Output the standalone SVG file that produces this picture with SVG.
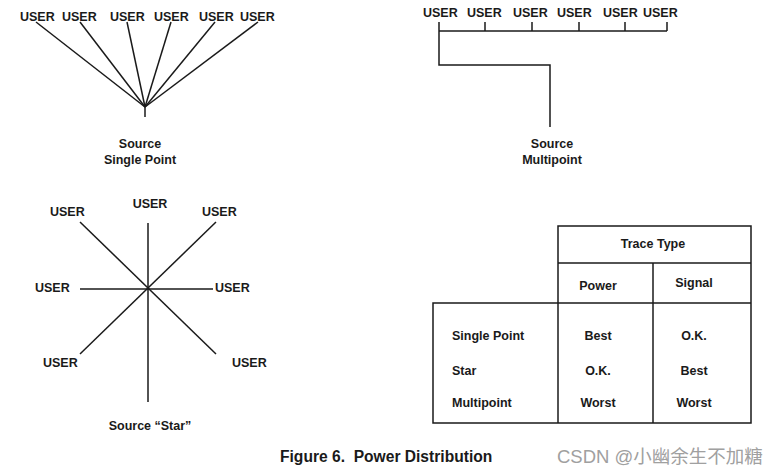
<svg xmlns="http://www.w3.org/2000/svg" width="784" height="474" viewBox="0 0 784 474">
<style>
text{font-family:"Liberation Sans",Arial,sans-serif;font-weight:bold;font-size:12.5px;fill:#1a1a1a}
.c{text-anchor:middle}
.cap{font-size:15.6px;white-space:pre}
.wm{font-family:"Liberation Sans","Noto Sans CJK SC",sans-serif;font-weight:normal;font-size:18.5px;fill:#a0a0a0}
line,polyline{stroke:#1a1a1a;stroke-width:1.5;fill:none}
</style>
<rect width="784" height="474" fill="#fff"/>
<g id="single-point">
<text x="20" y="21">USER</text>
<text x="62" y="21">USER</text>
<text x="110" y="21">USER</text>
<text x="154" y="21">USER</text>
<text x="199" y="21">USER</text>
<text x="240" y="21">USER</text>
<text class="c" x="140" y="148">Source</text>
<text class="c" x="140" y="164">Single Point</text>
</g>
<g id="multipoint">
<text x="423" y="17">USER</text>
<text x="467" y="17">USER</text>
<text x="513" y="17">USER</text>
<text x="557" y="17">USER</text>
<text x="603" y="17">USER</text>
<text x="643" y="17">USER</text>
<text class="c" x="552" y="148">Source</text>
<text class="c" x="552" y="164">Multipoint</text>
</g>
<g id="star">
<text class="c" x="150" y="208">USER</text>
<text x="50" y="216">USER</text>
<text x="202" y="216">USER</text>
<text x="35" y="292">USER</text>
<text x="215" y="292">USER</text>
<text x="43" y="367">USER</text>
<text x="232" y="367">USER</text>
<text class="c" x="150" y="430">Source “Star”</text>
</g>
<g id="connectors">
<line x1="36" y1="22" x2="145" y2="107"/>
<line x1="80" y1="22" x2="145" y2="107"/>
<line x1="127" y1="22" x2="145" y2="107"/>
<line x1="171" y1="22" x2="145" y2="107"/>
<line x1="215" y1="22" x2="145" y2="107"/>
<line x1="258" y1="22" x2="145" y2="107"/>
<line x1="145" y1="107" x2="145" y2="117"/>
<line x1="439" y1="31" x2="667" y2="31"/>
<line x1="485" y1="22" x2="485" y2="31"/>
<line x1="532" y1="22" x2="532" y2="31"/>
<line x1="579" y1="22" x2="579" y2="31"/>
<line x1="625" y1="22" x2="625" y2="31"/>
<line x1="667" y1="22" x2="667" y2="31"/>
<polyline points="439,22 439,65 550,65 550,127"/>
<line x1="148" y1="223" x2="148" y2="402"/>
<line x1="80" y1="289" x2="213" y2="289"/>
<line x1="80" y1="222" x2="216" y2="354"/>
<line x1="216" y1="222" x2="80" y2="354"/>
</g>
<g id="table">
<polyline points="558,303 558,226 751,226 751,423 433,423 433,303 751,303"/>
<line x1="558" y1="263" x2="751" y2="263"/>
<line x1="653" y1="263" x2="653" y2="423"/>
<line x1="558" y1="303" x2="558" y2="423"/>
<text class="c" x="653" y="248">Trace Type</text>
<text class="c" x="598" y="290">Power</text>
<text class="c" x="694" y="287">Signal</text>
<text x="452" y="340">Single Point</text>
<text x="452" y="375">Star</text>
<text x="452" y="407">Multipoint</text>
<text class="c" x="598" y="340">Best</text>
<text class="c" x="694" y="340">O.K.</text>
<text class="c" x="598" y="375">O.K.</text>
<text class="c" x="694" y="375">Best</text>
<text class="c" x="598" y="407">Worst</text>
<text class="c" x="694" y="407">Worst</text>
</g>
<g id="caption">
<text class="cap" x="280" y="462">Figure 6.  Power Distribution</text>
<text class="wm" x="557" y="463">CSDN @小幽余生不加糖</text>
</g>
</svg>
